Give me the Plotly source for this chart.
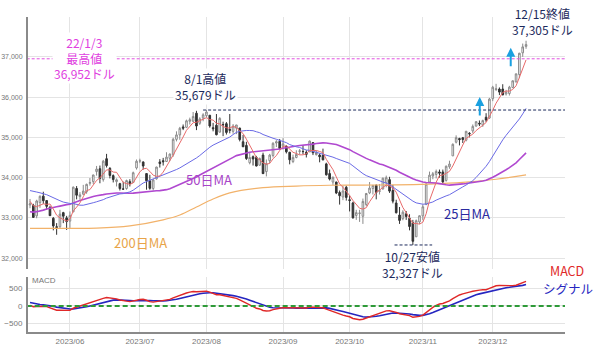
import pandas as pd
import plotly.graph_objects as go
from plotly.subplots import make_subplots

# ---- trading calendar (categories) ----
holidays = ["2023-05-29", "2023-06-19", "2023-07-04", "2023-09-04", "2023-11-23"]
dates = pd.bdate_range("2023-05-15", "2023-12-15", freq="C", holidays=holidays)

# ---- daily OHLC (USD) ----
open_ = [33320, 33310, 33050, 33380, 33540, 33430, 33260, 32990, 32780, 32780, 33130, 33000,
         32920, 33150, 33730, 33530, 33590, 33650, 33860, 33900, 34150, 34220, 33950, 34470, 34230, 34050, 33900, 33850, 33720, 33730, 33900, 33880, 34240,
         34410, 34390, 34100, 33920, 33730, 33970, 34390, 34420, 34400, 34480, 34570, 34950, 35060, 35260, 35250, 35400, 35400, 35600, 35350, 35480,
         35540, 35550, 35240, 35300, 35130, 35320, 35340, 35200, 35150, 35230, 35230, 34890, 34800, 34370, 34520, 34500, 34310, 34560, 34150, 34420, 34550, 34860, 34900,
         34780, 34780, 34630, 34400, 34500, 34650, 34650, 34630, 34640, 34870, 34570, 34560, 34550, 34340, 34100, 33890, 33890, 33630, 33520, 33760,
         33450, 33370, 33060, 33110, 33040, 33330, 33620, 33730, 33810, 33660, 33720, 33870, 33950, 33680, 33370, 33070, 32980, 33100, 32990, 32880, 32530, 32900,
         33050, 33330, 33890, 34040, 34080, 34140, 34140, 33930, 34270, 34540, 34880, 34970, 34990, 34930, 35100, 35160, 35280, 35350, 35310, 35500, 35480,
         35960, 36190, 36200, 36200, 36080, 36090, 36240, 36380, 36560, 37100, 37260]
high = [33470, 33350, 33450, 33560, 33650, 33440, 33300, 33020, 32870, 33200, 33150, 33050,
        33160, 33780, 33790, 33640, 33820, 33850, 33990, 34070, 34290, 34300, 34440, 34590, 34260, 34080, 33980, 33870, 33900, 33950, 33960, 34150, 34450,
        34470, 34400, 34100, 34070, 33960, 34270, 34460, 34490, 34630, 34600, 34990, 35150, 35260, 35320, 35440, 35490, 35630, 35660, 35500, 35600,
        35679, 35550, 35360, 35580, 35500, 35390, 35380, 35580, 35330, 35310, 35240, 35060, 34890, 34620, 34550, 34540, 34500, 34620, 34450, 34590, 34880, 34930, 34960,
        34980, 34800, 34640, 34570, 34680, 34710, 34800, 34680, 34920, 34880, 34670, 34600, 34720, 34370, 34200, 34030, 33900, 33680, 33800, 33800,
        33560, 33400, 33200, 33200, 33480, 33620, 33890, 33820, 33830, 33840, 34000, 34050, 34020, 33820, 33450, 33270, 33190, 33170, 33090, 32950, 32960, 33060,
        33330, 33860, 34150, 34140, 34200, 34200, 34200, 34300, 34420, 34850, 35050, 34990, 35010, 35160, 35130, 35320, 35400, 35420, 35440, 35600, 35980,
        36280, 36330, 36240, 36320, 36180, 36280, 36410, 36580, 37100, 37330, 37400]
low = [33240, 33000, 32990, 33250, 33350, 33200, 33050, 32690, 32580, 32750, 32870, 32700,
       32750, 33140, 33460, 33450, 33570, 33600, 33800, 33840, 34050, 33860, 33900, 34250, 33980, 33880, 33780, 33680, 33700, 33700, 33780, 33870, 34200,
       34360, 34200, 33700, 33700, 33680, 33950, 34250, 34300, 34400, 34410, 34520, 34900, 34940, 35180, 35230, 35320, 35380, 35180, 35310, 35400,
       35500, 35240, 35150, 35050, 35120, 35030, 35070, 35100, 35090, 35080, 34900, 34760, 34440, 34330, 34300, 34280, 34290, 34090, 34030, 34360, 34500, 34760, 34700,
       34700, 34600, 34330, 34360, 34480, 34570, 34580, 34500, 34640, 34560, 34550, 34380, 34430, 34050, 33930, 33820, 33590, 33330, 33440, 33430,
       33160, 32980, 32950, 32900, 32850, 33290, 33590, 33580, 33460, 33580, 33700, 33760, 33620, 33360, 33110, 32850, 32940, 32950, 32690, 32327, 32530, 32850,
       32950, 33330, 33880, 33960, 33980, 34000, 33850, 33900, 34220, 34540, 34850, 34800, 34860, 34900, 35000, 35110, 35270, 35280, 35260, 35380, 35460,
       35900, 36150, 36050, 36050, 36040, 36040, 36220, 36360, 36470, 37000, 37200]
close = [33348, 33012, 33420, 33535, 33427, 33286, 33055, 32800, 32764, 33093, 33042, 32908,
         33061, 33762, 33563, 33573, 33665, 33833, 33876, 34066, 34212, 33979, 34408, 34299, 34054, 33952, 33946, 33727, 33714, 33927, 33852, 34122, 34408,
         34418, 34288, 33922, 33734, 33944, 34262, 34347, 34395, 34509, 34585, 34952, 35061, 35225, 35228, 35411, 35438, 35520, 35282, 35459, 35560,
         35630, 35282, 35215, 35066, 35473, 35314, 35123, 35176, 35281, 35308, 34946, 34766, 34474, 34500, 34463, 34288, 34473, 34099, 34346, 34559, 34852, 34890, 34722,
         34838, 34641, 34443, 34501, 34577, 34664, 34646, 34576, 34907, 34618, 34624, 34518, 34441, 34070, 33964, 34007, 33619, 33551, 33667, 33508,
         33433, 33002, 33130, 33120, 33408, 33605, 33740, 33805, 33632, 33670, 33985, 33998, 33665, 33415, 33127, 32937, 33141, 33036, 32785, 32418, 32929, 33053,
         33275, 33840, 34061, 34096, 34153, 34112, 33892, 34283, 34337, 34828, 34992, 34945, 34947, 35151, 35088, 35273, 35390, 35333, 35417, 35430, 35951,
         36246, 36204, 36125, 36054, 36118, 36248, 36405, 36578, 37090, 37248, 37305]

# closes before the visible window (Mar 1 - May 12), only used to warm up the indicators
prior_close = [32661, 33003, 33391, 33431, 32856, 32798, 32254, 31910, 31819, 32155, 31875, 32247, 31862,
               32245, 32561, 32030, 32105, 32238, 32432, 32394, 32717, 32859, 33274,
               33601, 33403, 33482, 33485, 33587, 33685, 33647, 34030, 33886, 33987, 33977, 33897, 33787,
               33809, 33876, 33531, 33302, 33827, 34098,
               34051, 33684, 33414, 33128, 33675, 33619, 33562, 33531, 33309, 33300]

# 200-day moving average
ma200_dates = ["2023-05-15", "2023-05-30", "2023-06-13", "2023-06-28", "2023-07-13", "2023-07-20", "2023-07-27",
               "2023-08-03", "2023-08-10", "2023-08-24", "2023-09-08", "2023-09-22", "2023-10-06", "2023-10-20",
               "2023-11-03", "2023-11-17", "2023-12-04", "2023-12-15"]
ma200_vals = [32740, 32740, 32745, 32800, 32950, 33070, 33270, 33470, 33620, 33750, 33790, 33810, 33816, 33820,
              33840, 33880, 33960, 34070]

month_labels = ["2023/06", "2023/07", "2023/08", "2023/09", "2023/10", "2023/11", "2023/12"]

assert len(dates) == len(close) == len(open_) == len(high) == len(low)

n = len(close)
xi = list(range(n))
allc = pd.Series(prior_close + close, dtype=float)
k = len(prior_close)
ma5 = allc.rolling(5).mean().iloc[k:].tolist()
ma25 = allc.rolling(25).mean().iloc[k:].tolist()
ma50 = allc.rolling(50).mean().iloc[k:].tolist()
ema12 = allc.ewm(span=12, adjust=False).mean()
ema26 = allc.ewm(span=26, adjust=False).mean()
macd_all = ema12 - ema26
sig_all = macd_all.ewm(span=9, adjust=False).mean()
macd = macd_all.iloc[k:].tolist()
signal = sig_all.iloc[k:].tolist()

date_pos = {d.strftime("%Y-%m-%d"): i for i, d in enumerate(dates)}
ma200_x = [date_pos[d] for d in ma200_dates]

month_idx = [i for i in range(1, n) if dates[i].month != dates[i - 1].month]

fig = make_subplots(rows=2, cols=1, shared_xaxes=True)

fig.add_trace(go.Candlestick(x=xi, open=open_, high=high, low=low, close=close,
                             increasing=dict(fillcolor="white", line=dict(color="#8a8a8a", width=1)),
                             decreasing=dict(fillcolor="#333333", line=dict(color="#333333", width=1)),
                             whiskerwidth=0, showlegend=False), row=1, col=1)
fig.add_trace(go.Scatter(x=ma200_x, y=ma200_vals, mode="lines", line=dict(color="#f2b26a", width=1.2, shape="spline"),
                         showlegend=False), row=1, col=1)
fig.add_trace(go.Scatter(x=xi, y=ma50, mode="lines", line=dict(color="#b048d0", width=1.6), showlegend=False), row=1, col=1)
fig.add_trace(go.Scatter(x=xi, y=ma25, mode="lines", line=dict(color="#6a6ae6", width=1), showlegend=False), row=1, col=1)
fig.add_trace(go.Scatter(x=xi, y=ma5, mode="lines", line=dict(color="#e86a6a", width=1), showlegend=False), row=1, col=1)

fig.add_trace(go.Scatter(x=xi, y=signal, mode="lines", line=dict(color="#2626c0", width=1.6), showlegend=False), row=2, col=1)
fig.add_trace(go.Scatter(x=xi, y=macd, mode="lines", line=dict(color="#e02828", width=1.4), showlegend=False), row=2, col=1)

xr = [-0.6, 160.7]
grid = "#e4e4e4"
xtickfont = dict(size=8, color="#777777", family="Liberation Sans")
ytickfont = dict(size=7, color="#777777", family="Liberation Sans")
fig.update_layout(
    width=600, height=351, margin=dict(l=28, r=35, t=17, b=19),
    paper_bgcolor="white", plot_bgcolor="white", template="none",
    font=dict(family="Noto Sans CJK JP, Noto Sans", size=12),
    xaxis=dict(range=xr, rangeslider=dict(visible=False), tickvals=month_idx, ticktext=month_labels,
               showticklabels=False, showgrid=True, gridcolor=grid, gridwidth=1, zeroline=False,
               showline=False, ticks=""),
    xaxis2=dict(range=xr, tickvals=month_idx, ticktext=month_labels, showgrid=True, gridcolor=grid,
                zeroline=False, showline=True, linecolor="#8a8a8a", linewidth=2, ticks="",
                tickfont=xtickfont, automargin=False),
    yaxis=dict(domain=[0.2, 1.0], range=[31730, 37990], tickvals=[32000, 33000, 34000, 35000, 36000, 37000],
               tickformat=",", showgrid=True, gridcolor=grid, zeroline=False, showline=True,
               linecolor="#8a8a8a", linewidth=2, ticks="", tickfont=ytickfont, automargin=False,
               ticklabelstandoff=2),
    yaxis2=dict(domain=[0.0, 0.1746], range=[-750, 830], tickvals=[-500, 0, 500],
                showgrid=True, gridcolor=grid, zeroline=False, showline=True,
                linecolor="#8a8a8a", linewidth=2, ticks="", tickfont=xtickfont, automargin=False,
                ticklabelstandoff=2),
)

# reference lines
fig.add_shape(type="line", xref="x", yref="y", x0=-1, x1=170, y0=36952, y1=36952,
              line=dict(color="#e050e0", width=1, dash="3px,2px"))
fig.add_shape(type="line", xref="x", yref="y", x0=52, x1=170, y0=35679, y1=35679,
              line=dict(color="#1c2a5c", width=1, dash="3px,2px"))
fig.add_shape(type="line", xref="x", yref="y", x0=109.5, x1=120.8, y0=32327, y1=32327,
              line=dict(color="#1c2a5c", width=1, dash="3px,2px"))
fig.add_shape(type="line", xref="x2", yref="y2", x0=-1, x1=170, y0=0, y1=0,
              line=dict(color="#2e9a38", width=2, dash="5px,3px"))

navy = "#1c2a5c"
ann = [
    dict(x=16.5, y=36975, text="22/1/3<br>最高値<br>36,952ドル", font=dict(color="#e040e0", size=12), bgcolor="white"),
    dict(x=52.6, y=36254, text="8/1高値<br>35,679ドル", font=dict(color=navy, size=12), bgcolor="white"),
    dict(x=154, y=37871, text="12/15終値<br>37,305ドル", font=dict(color=navy, size=12)),
    dict(x=115, y=31850, text="10/27安値<br>32,327ドル", font=dict(color=navy, size=12)),
    dict(x=131.2, y=33119, text="25日MA", font=dict(color="#2a2aa0", size=13)),
    dict(x=53.8, y=33965, text="50日MA", font=dict(color="#a845c8", size=13)),
    dict(x=33.3, y=32398, text="200日MA", font=dict(color="#e8a448", size=13)),
]
for a in ann:
    fig.add_annotation(xref="x", yref="y", showarrow=False, xanchor="center", yanchor="middle", **a)

# blue arrows
for ax_, ay_ in [(135.1, 36005), (144.4, 37224)]:
    fig.add_annotation(xref="x", yref="y", x=ax_, y=ay_, text="", showarrow=True, ax=0, ay=20,
                       arrowhead=2, arrowsize=0.9, arrowwidth=2, arrowcolor="#1aa0e0")

fig.add_annotation(xref="paper", yref="paper", x=1.004, y=0.194, text="MACD", showarrow=False,
                   font=dict(color="#e02828", size=12.5), xanchor="center", yanchor="middle")
fig.add_annotation(xref="paper", yref="paper", x=1.006, y=0.137, text="シグナル", showarrow=False,
                   font=dict(color="#2626c0", size=12.5), xanchor="center", yanchor="middle")
fig.add_annotation(xref="paper", yref="paper", x=0.003, y=0.162, text="MACD", showarrow=False,
                   font=dict(color="#777777", size=8, family="Liberation Sans"), xanchor="left", yanchor="middle")

fig.write_html("out.html")
